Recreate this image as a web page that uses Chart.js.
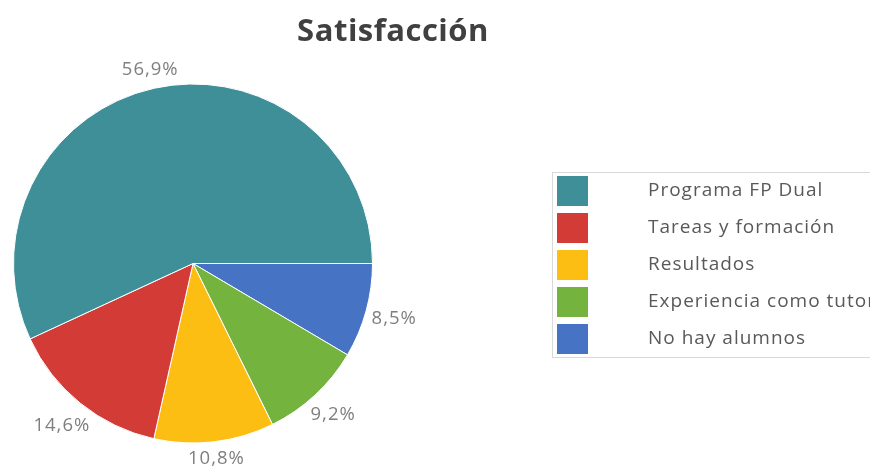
<!DOCTYPE html>
<html>
<head>
<meta charset="utf-8">
<script src="https://cdn.jsdelivr.net/npm/chart.js@4.4.1/dist/chart.umd.min.js"></script>
<style>
  html, body { margin: 0; padding: 0; background: #ffffff; overflow: hidden; }
  #wrap { width: 870px; height: 471px; position: relative; }
</style>
</head>
<body>
<div id="wrap"><canvas id="c" width="870" height="471"></canvas></div>
<script>
const titleText = 'Satisfacción';
const categories = ['Programa FP Dual', 'Tareas y formación', 'Resultados', 'Experiencia como tutor', 'No hay alumnos'];
const values = [56.9, 14.6, 10.8, 9.2, 8.5];
const valueLabels = ['56,9%', '14,6%', '10,8%', '9,2%', '8,5%'];
const colors = ['#3F8F99', '#D33C36', '#FDBE14', '#74B33E', '#4673C4'];

// Chart.js draws clockwise; the reference runs counter-clockwise from 3 o'clock,
// so the dataset is fed in reverse order starting at 3 o'clock.
const revIdx = values.map((_, i) => values.length - 1 - i);

const FONT = '"Open Sans", "Noto Sans", sans-serif';

const overlay = {
  id: 'overlay',
  afterDraw(chart) {
    const ctx = chart.ctx;
    ctx.save();
    // title
    ctx.fillStyle = '#404040';
    ctx.font = 'bold 31px ' + FONT;
    ctx.letterSpacing = '0.5px';
    ctx.textAlign = 'center';
    ctx.textBaseline = 'alphabetic';
    ctx.fillText(titleText, 393, 41);

    // value labels outside each slice
    ctx.textBaseline = 'middle';
    ctx.letterSpacing = '1px';
    const meta = chart.getDatasetMeta(0);
    ctx.font = '18.5px ' + FONT;
    ctx.fillStyle = '#7F7F7F';
    meta.data.forEach((arc, j) => {
      const i = revIdx[j];
      const p = arc.getProps(['x', 'y', 'startAngle', 'endAngle', 'outerRadius'], true);
      const mid = (p.startAngle + p.endAngle) / 2;
      const cx = Math.cos(mid), cy = Math.sin(mid);
      const txt = valueLabels[i];
      const w = ctx.measureText(txt).width;
      const h = 17;
      const ext = Math.abs(cx) * w / 2 + Math.abs(cy) * h / 2;
      const d = p.outerRadius + 5 + ext;
      ctx.fillText(txt, p.x + cx * d, p.y + cy * d);
    });

    // legend
    const lx = 552, ly = 172, lh = 185;
    ctx.strokeStyle = '#D9D9D9';
    ctx.lineWidth = 1;
    ctx.strokeRect(lx + 0.5, ly + 0.5, 400, lh);
    ctx.textAlign = 'left';
    ctx.font = '19px ' + FONT;
    categories.forEach((c, i) => {
      const yc = 191 + i * 37;
      ctx.fillStyle = colors[i];
      ctx.fillRect(557, yc - 15, 31, 30);
      ctx.fillStyle = '#595959';
      ctx.fillText(c, 648, yc);
    });
    ctx.restore();
  }
};

new Chart(document.getElementById('c'), {
  type: 'pie',
  data: {
    labels: revIdx.map(i => categories[i]),
    datasets: [{
      data: revIdx.map(i => values[i]),
      backgroundColor: revIdx.map(i => colors[i]),
      borderColor: '#FFFFFF',
      borderWidth: 1
    }]
  },
  options: {
    responsive: false,
    animation: false,
    rotation: 90,
    layout: { padding: { left: 13, right: 497, top: 83, bottom: 27 } },
    plugins: {
      legend: { display: false },
      title: { display: false },
      tooltip: { enabled: false }
    }
  },
  plugins: [overlay]
});
</script>
</body>
</html>
